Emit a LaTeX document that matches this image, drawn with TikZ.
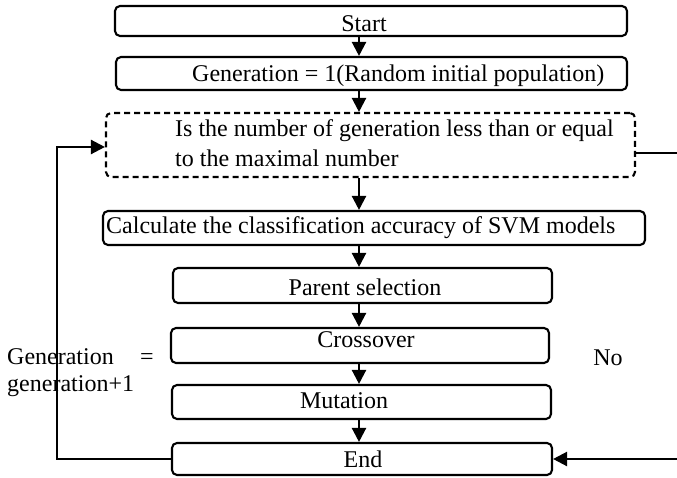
\documentclass[tikz,border=0pt]{standalone}
\usepackage{fontspec}
\setmainfont{Liberation Serif}
\usetikzlibrary{arrows.meta}
\tikzset{
 box/.style={draw, line width=2.1pt, rounded corners=5pt, inner sep=0pt},
 dbox/.style={box, dash pattern=on 6pt off 4pt},
 txt/.style={inner sep=0pt, font=\fontsize{24}{27}\selectfont},
 arr/.style={line width=2.3pt, -{Triangle[length=14pt,width=14pt]}},
}
\begin{document}
\begin{tikzpicture}[x=1pt,y=-1pt]
\useasboundingbox (0,0) rectangle (677,478);
% boxes
\node[box, minimum width=512pt, minimum height=30pt] (start) at (371,21) {};
\node[box, minimum width=511pt, minimum height=33pt] (gen) at (371.5,73.5) {};
\node[dbox, minimum width=529pt, minimum height=64pt] (cond) at (370.5,145) {};
\node[box, minimum width=542pt, minimum height=34pt] (calc) at (374,228) {};
\node[box, minimum width=379pt, minimum height=35pt] (parent) at (362.5,285.5) {};
\node[box, minimum width=378pt, minimum height=35pt] (cross) at (360,345.5) {};
\node[box, minimum width=379pt, minimum height=34pt] (mut) at (361.5,402) {};
\node[box, minimum width=380pt, minimum height=32pt] (end) at (362,459) {};
% texts
\node[txt, anchor=base] (tstart) at (364,32) {Start};
\node[txt, anchor=base west] (tgen) at (192,82) {Generation = 1(Random initial population)};
\node[txt, anchor=base west] (tcond1) at (175,137) {Is the number of generation less than or equal};
\node[txt, anchor=base west] (tcond2) at (175,167) {to the maximal number};
\node[txt, anchor=base west] (tcalc) at (106,234) {Calculate the classification accuracy of SVM models};
\node[txt, anchor=base] (tpar) at (365,295) {Parent selection};
\node[txt, anchor=base] (tcross) at (366,347) {Crossover};
\node[txt, anchor=base] (tmut) at (344,408) {Mutation};
\node[txt, anchor=base] (tend) at (363,467) {End};
\node[txt, anchor=base] (tno) at (608,365) {No};
\node[txt, anchor=base west] (tg1) at (7,364) {Generation};
\node[txt, anchor=base] (teq) at (147,364) {=};
\node[txt, anchor=base west] (tg2) at (7,391) {generation+1};
% connectors
\coordinate (ax) at (359,0);
\draw[arr] (start.south -| ax) -- (gen.north -| ax);
\draw[arr] (gen.south -| ax) -- (cond.north -| ax);
\draw[arr] (cond.south -| ax) -- (calc.north -| ax);
\draw[arr] (calc.south -| ax) -- (parent.north -| ax);
\draw[arr] (parent.south -| ax) -- (cross.north -| ax);
\draw[arr] (cross.south -| ax) -- (mut.north -| ax);
\draw[arr] (mut.south -| ax) -- (end.north -| ax);
\coordinate (lc) at (57,147);
\draw[arr] (end.west) -| (lc) -- (lc -| cond.west);
\coordinate (rt) at (681,153);
\coordinate (rb) at (681,459);
\draw[arr] (cond.east |- rt) -- (rt) -- (rb) -- (end.east);
\end{tikzpicture}
\end{document}
